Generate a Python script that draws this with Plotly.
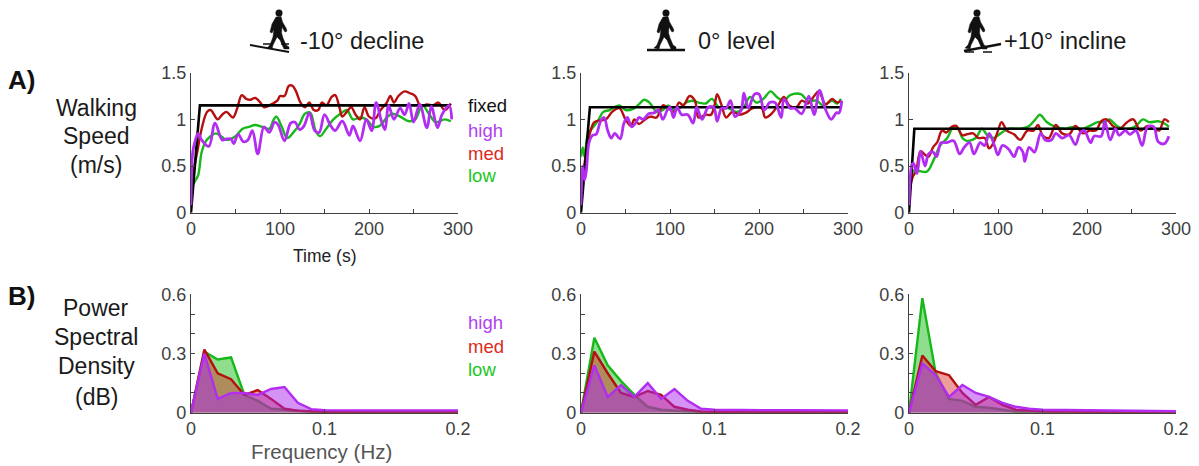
import plotly.graph_objects as go

PAGE_OFFSET = 8
W, H = 1199 - PAGE_OFFSET, 466 - PAGE_OFFSET
GREEN, RED, PURPLE = "#17b81a", "#b50f0f", "#b32cf2"
TXT = "Liberation Sans"

fixed_decline = [(0, 0), (10, 1.15), (292, 1.15)]
fixed_level = [(0, 0), (10, 1.13), (292, 1.13)]
fixed_incline = [(0, 0), (6, 0.9), (292, 0.9)]

low_decline = [(0,.25),(4,.33),(8,.4),(12,.65),(17,.77),(22,.82),(28,.85),(35,.81),(40,.78),(50,.82),(58,.9),(65,.92),(72,.94),(80,.92),(88,.9),(93,1.0),(96,1.03),(102,.92),(108,.8),(115,.86),(122,.95),(128,1.06),(134,1.07),(140,.88),(145,.82),(152,.9),(160,1.0),(168,1.06),(175,1.1),(182,1.0),(190,1.02),(197,1.0),(205,.92),(212,.93),(220,1.02),(226,1.06),(235,1.03),(245,.98),(252,1.0),(260,1.15),(268,1.05),(275,.97),(285,1.0),(292,.98)]
med_decline = [(0,.2),(3,.45),(7,.65),(12,.9),(18,1.08),(22,1.1),(30,1.0),(35,1.05),(40,1.08),(47,1.02),(52,1.12),(57,1.26),(62,1.22),(67,1.21),(72,1.23),(78,1.18),(82,1.13),(90,1.16),(97,1.2),(100,1.25),(105,1.25),(110,1.36),(114,1.36),(118,1.3),(123,1.18),(128,1.13),(133,1.18),(138,1.1),(143,1.1),(147,1.18),(152,1.15),(158,1.24),(162,1.26),(167,1.12),(170,1.03),(175,1.08),(180,1.13),(185,1.05),(190,1.0),(195,1.13),(200,1.03),(207,1.01),(213,1.1),(220,1.18),(224,1.25),(228,1.18),(233,1.25),(240,1.3),(246,1.28),(252,1.25),(258,1.14),(265,1.16),(272,1.15),(278,1.18),(285,1.1),(292,1.17)]
high_decline = [(0,.08),(2,.65),(5,.78),(8,.85),(12,.78),(20,.71),(27,.96),(35,.78),(40,.79),(45,.79),(48,.74),(53,.84),(59,.76),(64,.78),(69,.88),(75,.63),(82,.92),(88,.86),(94,.97),(98,.94),(105,.77),(112,.96),(117,.97),(122,.89),(127,.93),(133,1.07),(139,.88),(144,.86),(150,1.05),(157,.93),(162,.88),(170,.98),(178,.83),(182,.93),(190,.77),(197,1.0),(203,.88),(208,1.18),(214,.98),(218,.89),(222,1.15),(228,1.0),(235,1.12),(240,1.05),(245,1.17),(250,.97),(257,1.16),(265,.91),(270,1.14),(277,.91),(282,1.05),(290,1.15),(293,1.0)]

low_level = [(0,.6),(2,.7),(4,.6),(8,.85),(14,.92),(20,1.0),(25,1.08),(32,1.1),(43,1.15),(50,1.1),(58,1.11),(65,1.16),(71,1.21),(77,1.18),(85,1.08),(92,1.1),(98,1.15),(105,1.1),(112,1.13),(118,1.18),(125,1.2),(132,1.18),(140,1.17),(147,1.22),(155,1.13),(165,1.12),(175,1.08),(182,1.12),(190,1.24),(197,1.18),(205,1.22),(213,1.3),(220,1.24),(228,1.2),(235,1.26),(247,1.27),(255,1.2),(265,1.2),(272,1.15),(282,1.2),(288,1.17),(292,1.22)]
med_level = [(0,.15),(3,.45),(6,.65),(10,.85),(15,.97),(22,.99),(28,1.0),(35,1.08),(43,1.12),(50,1.0),(56,.93),(60,1.0),(65,.95),(72,1.0),(78,1.03),(85,1.02),(92,1.15),(98,1.12),(105,1.08),(110,1.18),(115,1.15),(122,1.25),(128,1.2),(132,1.02),(140,1.05),(146,1.05),(150,1.15),(153,1.27),(158,1.15),(163,1.02),(170,1.08),(178,1.05),(185,1.07),(193,1.12),(203,1.12),(207,1.02),(213,1.05),(222,1.16),(228,1.24),(234,1.15),(242,1.13),(248,1.2),(255,1.17),(262,1.25),(267,1.3),(275,1.16),(282,1.22),(288,1.18),(292,1.2)]
high_level = [(0,.08),(2,.5),(4,.35),(6,.45),(9,.75),(13,.83),(17,.84),(22,.98),(26,1.02),(30,.88),(34,.8),(38,.85),(44,.79),(48,.95),(52,1.02),(57,.92),(62,.97),(65,1.02),(70,1.0),(76,1.06),(82,1.07),(87,1.1),(92,1.0),(97,1.1),(100,1.13),(104,1.02),(108,1.13),(113,1.05),(120,1.05),(126,.96),(130,1.13),(136,1.0),(143,1.13),(149,1.13),(153,.98),(158,1.12),(163,1.12),(168,1.2),(173,1.03),(180,1.1),(183,1.28),(188,1.12),(195,1.27),(200,1.27),(206,1.1),(212,1.18),(218,1.18),(225,1.02),(228,1.22),(235,1.12),(240,1.12),(248,1.06),(256,1.25),(262,1.05),(268,1.31),(275,1.1),(281,1.0),(287,1.07),(290,1.07),(293,1.2)]

low_incline = [(0,.3),(5,.45),(10,.45),(20,.44),(27,.55),(35,.72),(43,.8),(50,.92),(55,.9),(60,.8),(65,.77),(75,.8),(82,.9),(88,.83),(95,.8),(103,.85),(112,.9),(125,.9),(135,.93),(142,1.0),(147,1.05),(155,.97),(165,.92),(175,.9),(185,.92),(195,.9),(203,.93),(212,.97),(220,.97),(225,1.0),(235,.92),(247,.9),(255,.93),(263,1.0),(270,.97),(280,.98),(288,.95),(292,.92)]
med_incline = [(0,.2),(4,.38),(8,.45),(13,.66),(18,.62),(22,.6),(27,.7),(32,.76),(37,.88),(42,.86),(48,.92),(53,.93),(60,.83),(65,.84),(72,.85),(78,.8),(85,.8),(90,.69),(95,.75),(100,.88),(104,.97),(110,.88),(118,.84),(125,.78),(133,.88),(140,.88),(145,.94),(150,.83),(157,.8),(165,.94),(172,.85),(180,.84),(187,.93),(195,.85),(203,.88),(210,.88),(216,.98),(222,1.0),(230,.92),(237,.9),(245,.97),(252,1.0),(260,.88),(268,.93),(275,.91),(281,.88),(287,1.0),(292,.97)]
high_incline = [(0,.08),(3,.5),(5,.53),(9,.42),(13,.66),(18,.5),(22,.63),(27,.65),(31,.6),(36,.75),(42,.75),(50,.77),(57,.63),(62,.7),(68,.75),(73,.63),(80,.75),(85,.72),(90,.85),(96,.72),(100,.62),(105,.72),(112,.68),(118,.6),(123,.7),(128,.65),(130,.55),(135,.7),(141,.65),(148,.85),(153,.78),(160,.78),(165,.85),(172,.8),(180,.83),(187,.73),(192,.85),(197,.88),(204,.75),(208,.82),(216,.82),(220,.98),(226,.78),(232,.9),(236,.83),(243,.88),(248,.84),(255,.88),(262,.72),(268,.92),(275,.92),(280,.76),(287,.74),(292,.82)]

freq = [0,.01,.02,.03,.04,.05,.06,.07,.08,.09,.10,.11,.12,.14,.16,.18,.20]
psd_low_decline = [0,.31,.27,.28,.09,.06,.02,.015,.008,.005,.004,.004,.003,.003,.003,.003,.003]
psd_med_decline = [0,.32,.2,.17,.09,.115,.07,.02,.01,.006,.005,.005,.005,.005,.005,.005,.005]
psd_high_decline = [0,.3,.07,.1,.1,.09,.12,.13,.05,.018,.013,.012,.012,.012,.012,.012,.012]
psd_low_level = [0,.38,.24,.16,.09,.03,.015,.01,.005,.003,.002,.002,.002,.002,.002,.002,.002]
psd_med_level = [0,.31,.2,.1,.08,.11,.09,.03,.015,.006,.005,.005,.005,.005,.005,.005,.005]
psd_high_level = [0,.24,.08,.14,.08,.15,.07,.12,.06,.02,.015,.014,.014,.013,.013,.012,.012]
psd_low_incline = [0,.58,.2,.07,.06,.03,.025,.015,.005,.003,.002,.002,.002,.002,.002,.002,.002]
psd_med_incline = [0,.29,.21,.19,.1,.04,.08,.04,.015,.01,.007,.006,.005,.005,.005,.005,.005]
psd_high_incline = [0,.25,.19,.08,.14,.1,.08,.05,.03,.02,.015,.014,.013,.011,.01,.008,.007]

time_ticks = [0, 50, 100, 150, 200, 250, 300]
time_labels = ["0", "", "100", "", "200", "", "300"]
speed_ticks = [0, 0.5, 1, 1.5]
speed_labels = ["0", "0.5", "1", "1.5"]
freq_ticks = [0, 0.1, 0.2]
freq_labels = ["0", "0.1", "0.2"]
psd_ticks = [0, .1, .2, .3, .4, .5, .6]
psd_labels = ["0", "", "", "0.3", "", "", "0.6"]

panel_x = [(191, 458), (581, 848), (909, 1176)]
top_y = (72.7, 212.7)
bot_y = (294.3, 412.7)
speed_sets = [
    (fixed_decline, low_decline, med_decline, high_decline),
    (fixed_level, low_level, med_level, high_level),
    (fixed_incline, low_incline, med_incline, high_incline),
]
psd_sets = [
    (psd_low_decline, psd_med_decline, psd_high_decline),
    (psd_low_level, psd_med_level, psd_high_level),
    (psd_low_incline, psd_med_incline, psd_high_incline),
]

fig = go.Figure()
layout = {}
AX = dict(showgrid=False, zeroline=False, showline=True, linecolor="#404040", linewidth=1.2,
          ticks="inside", ticklen=4, tickcolor="#404040", tickwidth=1,
          tickfont=dict(family=TXT, size=18, color="#404040"), tickangle=0, automargin=False)


def px(x):
    return (x - PAGE_OFFSET) / W


def py(y):
    return 1 - (y - PAGE_OFFSET) / H


for i in range(3):
    xa, ya = 2 * i + 1, 2 * i + 2
    xa2, ya2 = 2 * i + 7, 2 * i + 8
    layout[f"xaxis{xa}"] = dict(AX, domain=[px(panel_x[i][0]), px(panel_x[i][1])], range=[0, 300],
                                tickmode="array", tickvals=time_ticks, ticktext=time_labels, anchor=f"y{ya}")
    layout[f"yaxis{ya}"] = dict(AX, domain=[py(top_y[1]), py(top_y[0])], range=[0, 1.5],
                                tickmode="array", tickvals=speed_ticks, ticktext=speed_labels, anchor=f"x{xa}")
    layout[f"xaxis{xa2}"] = dict(AX, domain=[px(panel_x[i][0]), px(panel_x[i][1])], range=[0, 0.2],
                                 tickmode="array", tickvals=freq_ticks, ticktext=freq_labels, anchor=f"y{ya2}")
    layout[f"yaxis{ya2}"] = dict(AX, domain=[py(bot_y[1]), py(bot_y[0])], range=[0, 0.6],
                                 tickmode="array", tickvals=psd_ticks, ticktext=psd_labels, anchor=f"x{xa2}")
    fx, lo, me, hi = speed_sets[i]
    for series, col, w, name in [(lo, GREEN, 2.4, "low"), (me, RED, 2.4, "med"), (fx, "#000000", 2.6, "fixed"), (hi, PURPLE, 2.8, "high")]:
        smooth = series is not fx
        fig.add_trace(go.Scatter(x=[p[0] for p in series], y=[p[1] for p in series], mode="lines", name=name,
                                 line=dict(color=col, width=w, shape="spline" if smooth else "linear", smoothing=1.0),
                                 xaxis=f"x{xa}", yaxis=f"y{ya}", showlegend=False, cliponaxis=False))
    lo, me, hi = psd_sets[i]
    for series, col, fill, name in [(lo, GREEN, "rgba(30,190,30,0.5)", "low"),
                                    (me, RED, "rgba(215,40,30,0.45)", "med"),
                                    (hi, PURPLE, "rgba(170,40,235,0.5)", "high")]:
        fig.add_trace(go.Scatter(x=freq, y=series, mode="lines", name=name, fill="tozeroy", fillcolor=fill,
                                 line=dict(color=col, width=2.4), xaxis=f"x{xa2}", yaxis=f"y{ya2}",
                                 showlegend=False, cliponaxis=False))

notes = []


def text(x, y, s, size, color="#1a1a1a", anchor="center", bold=False):
    notes.append(dict(x=px(x), y=py(y), xref="paper", yref="paper", text=f"<b>{s}</b>" if bold else s, showarrow=False,
                      xanchor=anchor, yanchor="middle", font=dict(family=TXT, size=size, color=color)))


text(362, 41, "-10° decline", 23.5)
text(736, 41, "0° level", 23.5)
text(1065, 41, "+10° incline", 23.5)
text(6, 80, "A)", 26, "#111111", "left", True)
text(6, 296, "B)", 26, "#111111", "left", True)
for y, s in [(108, "Walking"), (136, "Speed"), (165, "(m/s)")]:
    text(96, y, s, 23)
for y, s in [(308, "Power"), (337, "Spectral"), (366, "Density"), (397, "(dB)")]:
    text(96, y, s, 23)
text(325, 256, "Time (s)", 17.5, "#222222")
text(321, 451, "Frequency (Hz)", 20.5, "#555555")
text(466, 106, "fixed", 18.5, "#111111", "left")
text(466, 130, "high", 18.5, "#b040f0", "left")
text(466, 153, "med", 18.5, "#dd2a20", "left")
text(466, 176, "low", 18.5, "#18c820", "left")
text(466, 322, "high", 18.5, "#b040f0", "left")
text(466, 346, "med", 18.5, "#dd2a20", "left")
text(466, 369, "low", 18.5, "#18c820", "left")

shapes = []
WALKER = [(-3,4),(2,3.5),(3.5,9),(7,15),(8,18),(6,19),(3,14),(2.5,20),(4,25),(7,32),(10,34),(10,36),(5,36),(1,27),(-2,24),(-6,32),(-7,36),(-12,35),(-9,32),(-6,24),(-5,16),(-7,20),(-9,19),(-7,11)]


def poly(points, cx, cy):
    return "M " + " L ".join(f"{px(cx + a)} {py(cy + b)}" for a, b in points) + " Z"


def walker(cx, cy):
    shapes.append(dict(type="path", xref="paper", yref="paper", path=poly(WALKER, cx, cy),
                       fillcolor="#111111", line=dict(color="#111111", width=0.5)))
    shapes.append(dict(type="circle", xref="paper", yref="paper", x0=px(cx - 3.5), x1=px(cx + 3.5), y0=py(cy + 3.5), y1=py(cy - 3.5),
                       fillcolor="#111111", line=dict(color="#111111", width=0)))


def rule(x0, y0, x1, y1, width=2, dash="solid"):
    shapes.append(dict(type="line", xref="paper", yref="paper", x0=px(x0), y0=py(y0), x1=px(x1), y1=py(y1),
                       line=dict(color="#111111", width=width, dash=dash)))


walker(279, 13)
rule(250, 45, 289, 52, 2)
rule(263, 44, 289, 44, 1.5, "dash")
walker(666, 13)
rule(647, 50, 685, 50, 2.5)
walker(977, 13)
rule(964, 51, 1001, 44, 2.5)
rule(965, 52, 999, 52, 1.5, "dash")

fig.update_layout(width=W, height=H, margin=dict(l=0, r=0, t=0, b=0), paper_bgcolor="white", plot_bgcolor="rgba(0,0,0,0)",
                  showlegend=False, annotations=notes, shapes=shapes, **layout)
fig.write_html("out.html")
